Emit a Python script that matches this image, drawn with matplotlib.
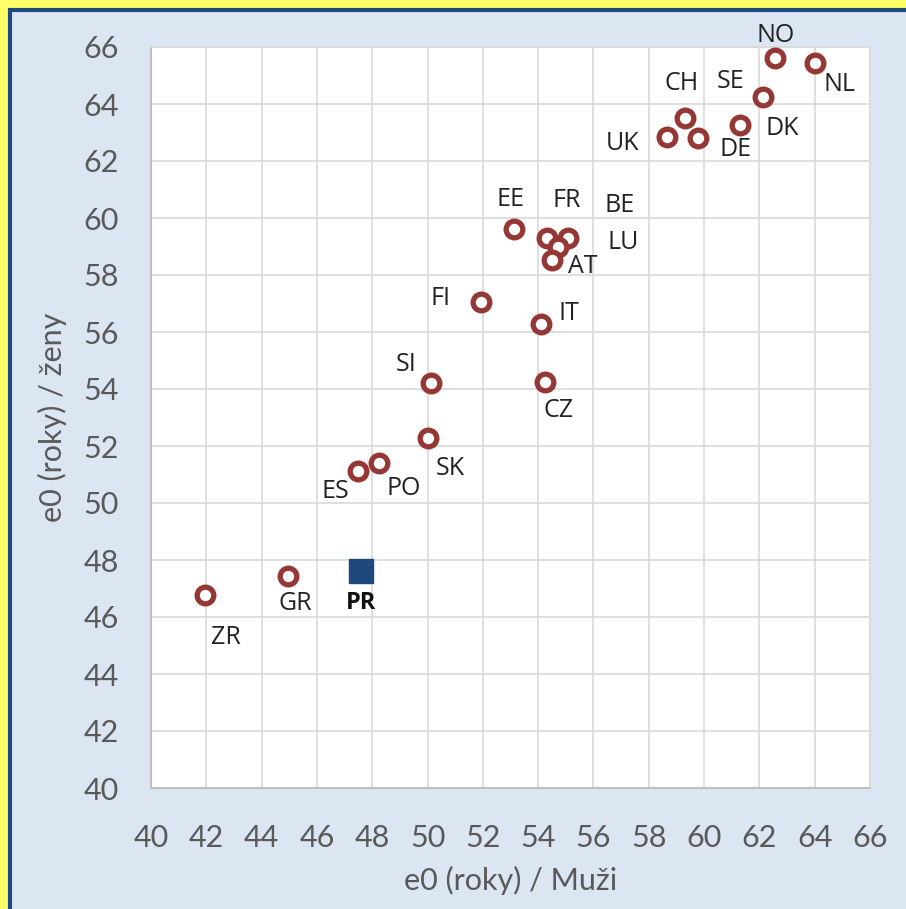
import matplotlib.pyplot as plt
from matplotlib.patches import Rectangle

# e0 values (men, women)
countries = ["ZR", "GR", "ES", "PO", "SK", "SI", "CZ", "IT", "FI", "EE", "FR",
             "BE", "LU", "AT", "UK", "CH", "DE", "DK", "SE", "NO", "NL"]
e0_men = [41.95, 44.95, 47.5, 48.25, 50.0, 50.13, 54.25, 54.1, 51.93, 53.13, 54.32,
          55.08, 54.72, 54.5, 58.66, 59.31, 59.78, 61.3, 62.13, 62.57, 64.01]
e0_women = [46.77, 47.44, 51.12, 51.4, 52.28, 54.21, 54.25, 56.28, 57.05, 59.61, 59.3,
            59.3, 58.98, 58.53, 62.84, 63.51, 62.81, 63.26, 64.25, 65.61, 65.44]

pr_label = "PR"
pr_men = 47.6
pr_women = 47.6

# label offsets in pixels (dx, dy) relative to the marker, dy positive = up
label_offsets = {
    "ZR": (21, -42), "GR": (7, -28), "ES": (-23, -20), "PO": (25, -25),
    "SK": (23, -30), "SI": (-25, 19), "CZ": (13, -29), "IT": (28, 11),
    "FI": (-40, 4), "EE": (-4, 30), "FR": (20, 37), "BE": (52, 32),
    "LU": (65, 5), "AT": (31, -7), "UK": (-44, -6), "CH": (-3, 34),
    "DE": (38, -12), "DK": (42, -3), "SE": (-32, 15), "NO": (0, 23),
    "NL": (25, -22),
}

plt.rcParams['font.family'] = ['Lato', 'DejaVu Sans']

fig = plt.figure(figsize=(9.06, 9.09), dpi=100)
fig.patch.set_facecolor('#FFFF66')
# light blue panel with dark blue edge, inside the yellow frame
panel = Rectangle((10 / 906, -0.01), 1.0, 1 - 10 / 909 + 0.01,
                  transform=fig.transFigure, facecolor='#DCE6F2',
                  edgecolor='#1F497D', linewidth=3, zorder=-10)
fig.patches.append(panel)

ax = fig.add_axes([151 / 906, 1 - 788 / 909, (870 - 151) / 906, (788 - 47) / 909])
ax.set_zorder(1)
ax.set_facecolor('white')

ax.scatter(e0_men, e0_women, s=12 ** 2, facecolors='white', edgecolors='#953735',
           linewidths=3.8, zorder=3)
ax.plot([pr_men], [pr_women], marker='s', markersize=17, color='#1F497D',
        linestyle='none', zorder=3)

for c, x, y in zip(countries, e0_men, e0_women):
    dx, dy = label_offsets[c]
    ax.annotate(c, (x, y), xytext=(dx, dy), textcoords='offset pixels',
                ha='center', va='center', fontsize=18, color='#222222',
                family=['Open Sans', 'DejaVu Sans'], zorder=4)
ax.annotate(pr_label, (pr_men, pr_women), xytext=(0, -32), textcoords='offset pixels',
            ha='center', va='center', fontsize=17, fontweight='bold', color='#111111',
            family=['Open Sans', 'DejaVu Sans'], zorder=4)

ax.set_xlim(40, 66)
ax.set_ylim(40, 66)
ax.set_xticks(range(40, 67, 2))
ax.set_yticks(range(40, 67, 2))
ax.grid(True, color='#D9D9D9', linewidth=1.2)
ax.set_axisbelow(True)
ax.tick_params(length=0, labelsize=22, labelcolor='#595959')
ax.tick_params(axis='x', pad=26)
ax.tick_params(axis='y', pad=23)
for side in ['left', 'bottom']:
    ax.spines[side].set_color('#BFBFBF')
    ax.spines[side].set_linewidth(1.5)
for side in ['top', 'right']:
    ax.spines[side].set_color('#D9D9D9')
    ax.spines[side].set_linewidth(1.2)

ax.set_xlabel('e0 (roky) / Muži', fontsize=22, color='#595959', labelpad=10)
ax.set_ylabel('e0 (roky) / ženy', fontsize=22, color='#595959', labelpad=12)

plt.savefig('out.png', dpi=100, facecolor=fig.get_facecolor())
